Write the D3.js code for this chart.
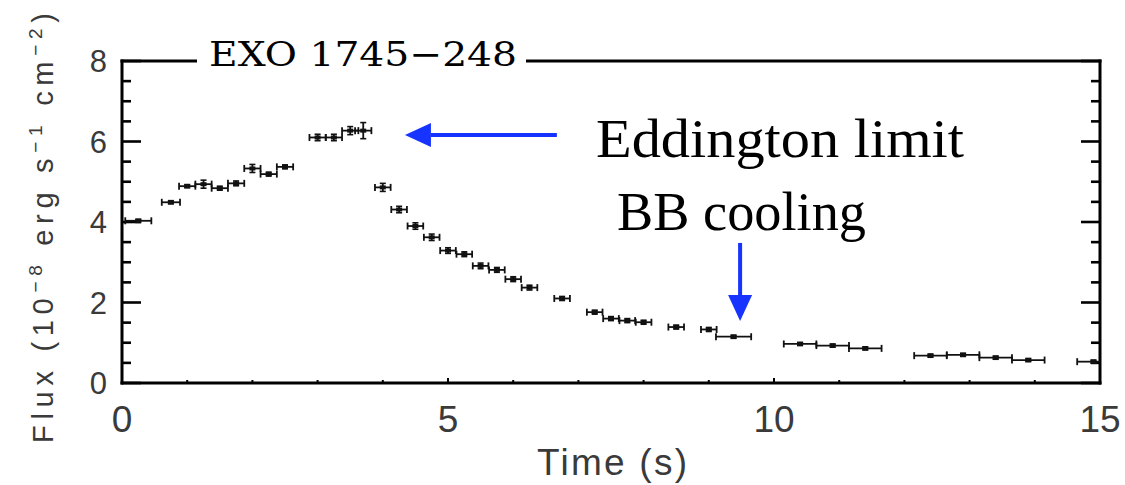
<!DOCTYPE html>
<html>
<head>
<meta charset="utf-8">
<script src="https://cdn.jsdelivr.net/npm/d3@7"></script>
<style>
  html, body { margin: 0; padding: 0; background: #fff; }
  svg { display: block; }
</style>
</head>
<body>
<svg id="chart" width="1125" height="485"></svg>
<script>
// Burst light curve: bin centre time (s), flux (1e-8 erg/s/cm^2), half bin width, flux error
const time = [0.25, 0.75, 1.0, 1.25, 1.5, 1.75, 2.0, 2.25, 2.5, 3.0, 3.25, 3.5, 3.7,
  4.0, 4.25, 4.5, 4.75, 5.0, 5.25, 5.5, 5.75, 6.0, 6.25,
  6.75, 7.25, 7.5, 7.75, 8.0, 8.5, 9.0, 9.38,
  10.4, 10.9, 11.4, 12.4, 12.9, 13.4, 13.9, 14.9];
const flux = [4.03, 4.49, 4.89, 4.94, 4.84, 4.96, 5.33, 5.19, 5.37, 6.10, 6.10, 6.27, 6.27,
  4.86, 4.31, 3.90, 3.62, 3.29, 3.20, 2.91, 2.81, 2.58, 2.37,
  2.10, 1.76, 1.60, 1.55, 1.51, 1.39, 1.33, 1.15,
  0.97, 0.93, 0.86, 0.68, 0.70, 0.63, 0.57, 0.53];
const timeErr = [0.2, 0.14, 0.125, 0.125, 0.125, 0.125, 0.125, 0.125, 0.125, 0.125, 0.125, 0.125, 0.125,
  0.12, 0.12, 0.12, 0.12, 0.12, 0.12, 0.12, 0.12, 0.12, 0.12,
  0.12, 0.12, 0.12, 0.12, 0.12, 0.12, 0.12, 0.27,
  0.25, 0.25, 0.25, 0.25, 0.25, 0.25, 0.25, 0.25];
const fluxErr = [0.04, 0.04, 0.04, 0.1, 0.05, 0.06, 0.1, 0.05, 0.05, 0.08, 0.08, 0.1, 0.2,
  0.1, 0.08, 0.08, 0.08, 0.07, 0.06, 0.07, 0.06, 0.06, 0.06,
  0.05, 0.05, 0.05, 0.05, 0.05, 0.05, 0.05, 0.04,
  0.04, 0.04, 0.04, 0.04, 0.04, 0.04, 0.04, 0.04];

const xTicks = [0, 5, 10, 15];
const yTicks = [0, 2, 4, 6, 8];
const titleText = "EXO 1745\u2212248";

const svg = d3.select("#chart");
const plotLeft = 122, plotRight = 1100, plotTop = 61, plotBottom = 383;

const x = d3.scaleLinear().domain([0, 15]).range([plotLeft, plotRight]);
const y = d3.scaleLinear().domain([0, 8]).range([plotBottom, plotTop]);

const ink = "#000";
const labelInk = "#3a3a3a";
const blue = "#1633ff";

// ----- frame and ticks -----
const frame = svg.append("g").attr("stroke", ink).attr("stroke-width", 3).attr("fill", "none");
frame.append("line").attr("x1", plotLeft).attr("x2", plotLeft).attr("y1", plotTop - 1.5).attr("y2", plotBottom + 1.5);
frame.append("line").attr("x1", plotRight).attr("x2", plotRight).attr("y1", plotTop - 1.5).attr("y2", plotBottom + 1.5);
frame.append("line").attr("x1", plotLeft - 1.5).attr("x2", plotRight + 1.5).attr("y1", plotBottom).attr("y2", plotBottom);
// top edge, broken around the title
frame.append("line").attr("x1", plotLeft - 1.5).attr("x2", 197).attr("y1", plotTop).attr("y2", plotTop);
frame.append("line").attr("x1", 526).attr("x2", plotRight + 1.5).attr("y1", plotTop).attr("y2", plotTop);

const yMinor = d3.range(0, 8.01, 0.5);
const tickG = svg.append("g").attr("stroke", ink).attr("stroke-width", 2.6);
yMinor.forEach(v => {
  const major = Math.abs(v / 2 - Math.round(v / 2)) < 1e-6;
  const len = major ? 19 : 9;
  tickG.append("line").attr("x1", plotLeft).attr("x2", plotLeft + len).attr("y1", y(v)).attr("y2", y(v));
  tickG.append("line").attr("x1", plotRight).attr("x2", plotRight - len).attr("y1", y(v)).attr("y2", y(v));
});
d3.range(1, 15).forEach(t => {
  const len = t % 5 === 0 ? 5 : 3;
  tickG.append("line").attr("x1", x(t)).attr("x2", x(t)).attr("y1", plotBottom).attr("y2", plotBottom - len)
    .attr("stroke-width", 2);
});

// ----- tick labels -----
const labFont = "'Liberation Sans', Arial, sans-serif";
svg.append("g").selectAll("text").data(yTicks).join("text")
  .attr("x", 107).attr("y", d => y(d) + 11)
  .attr("text-anchor", "end")
  .attr("font-family", labFont).attr("font-size", 31).attr("fill", labelInk)
  .text(d => d);
svg.append("g").selectAll("text").data(xTicks).join("text")
  .attr("x", d => x(d)).attr("y", 432)
  .attr("text-anchor", "middle")
  .attr("font-family", labFont).attr("font-size", 37).attr("fill", labelInk)
  .text(d => d);

// axis titles
svg.append("text")
  .attr("x", 612).attr("y", 475)
  .attr("text-anchor", "middle")
  .attr("font-family", labFont).attr("font-size", 37).attr("fill", labelInk)
  .attr("textLength", 150).attr("lengthAdjust", "spacing")
  .text("Time (s)");

const yt = svg.append("text")
  .attr("transform", "translate(53,228) rotate(-90)")
  .attr("text-anchor", "middle")
  .attr("font-family", labFont).attr("font-size", 29).attr("fill", labelInk)
  .attr("textLength", 430).attr("lengthAdjust", "spacing");
yt.append("tspan").text("Flux (10");
yt.append("tspan").attr("dy", -11).attr("font-size", 19).text("\u22128");
yt.append("tspan").attr("dy", 11).text(" erg s");
yt.append("tspan").attr("dy", -11).attr("font-size", 19).text("\u22121");
yt.append("tspan").attr("dy", 11).text(" cm");
yt.append("tspan").attr("dy", -11).attr("font-size", 19).text("\u22122");
yt.append("tspan").attr("dy", 11).text(")");

// plot title set into the top frame
svg.append("text")
  .attr("x", 209).attr("y", 66)
  .attr("font-family", "'DejaVu Serif', 'Liberation Serif', serif")
  .attr("font-size", 34).attr("fill", "#000")
  .attr("textLength", 308).attr("lengthAdjust", "spacingAndGlyphs")
  .text(titleText);

// ----- data: error bars -----
const pts = time.map((t, i) => ({ t, f: flux[i], dt: timeErr[i], df: fluxErr[i] }));
const dataG = svg.append("g").attr("stroke", "#111").attr("fill", "none");
const g = dataG.selectAll("g").data(pts).join("g");
// horizontal (time bin) bars, clipped at the right frame
g.append("line")
  .attr("x1", d => x(d.t - d.dt)).attr("x2", d => Math.min(x(d.t + d.dt), plotRight))
  .attr("y1", d => y(d.f)).attr("y2", d => y(d.f))
  .attr("stroke-width", 1.8);
// end caps on time bars
g.append("line")
  .attr("x1", d => Math.max(x(d.t - d.dt), plotLeft)).attr("x2", d => Math.max(x(d.t - d.dt), plotLeft))
  .attr("y1", d => y(d.f) - 3.5).attr("y2", d => y(d.f) + 3.5)
  .attr("stroke-width", 1.8);
g.filter(d => x(d.t + d.dt) < plotRight).append("line")
  .attr("x1", d => x(d.t + d.dt)).attr("x2", d => x(d.t + d.dt))
  .attr("y1", d => y(d.f) - 3.5).attr("y2", d => y(d.f) + 3.5)
  .attr("stroke-width", 1.8);
// flux error bars with caps
g.append("line")
  .attr("x1", d => x(d.t)).attr("x2", d => x(d.t))
  .attr("y1", d => y(d.f + d.df)).attr("y2", d => y(d.f - d.df))
  .attr("stroke-width", 1.8);
g.append("line")
  .attr("x1", d => x(d.t) - 3).attr("x2", d => x(d.t) + 3)
  .attr("y1", d => y(d.f + d.df)).attr("y2", d => y(d.f + d.df))
  .attr("stroke-width", 1.6);
g.append("line")
  .attr("x1", d => x(d.t) - 3).attr("x2", d => x(d.t) + 3)
  .attr("y1", d => y(d.f - d.df)).attr("y2", d => y(d.f - d.df))
  .attr("stroke-width", 1.6);
// centre marker
g.append("rect")
  .attr("x", d => x(d.t) - 3).attr("y", d => y(d.f) - 2)
  .attr("width", 6).attr("height", 4)
  .attr("fill", "#111").attr("stroke", "none");

// ----- annotations -----
const ann = svg.append("g");
function arrow(x0, y0, x1, y1) {
  const ang = Math.atan2(y1 - y0, x1 - x0);
  const headLen = 26, headHalf = 12;
  const bx = x1 - headLen * Math.cos(ang), by = y1 - headLen * Math.sin(ang);
  ann.append("line").attr("x1", x0).attr("y1", y0).attr("x2", bx).attr("y2", by)
    .attr("stroke", blue).attr("stroke-width", 4);
  const px = -Math.sin(ang) * headHalf, py = Math.cos(ang) * headHalf;
  ann.append("path")
    .attr("d", `M${x1},${y1}L${bx + px},${by + py}L${bx - px},${by - py}Z`)
    .attr("fill", blue);
}
// Eddington-limited plateau
arrow(x(6.67), y(6.16), x(4.34), y(6.16));
// start of blackbody cooling
arrow(x(9.48), y(3.48), x(9.48), y(1.54));

const serif = "'Liberation Serif', 'Times New Roman', serif";
ann.append("text").attr("x", 596).attr("y", 157)
  .attr("font-family", serif).attr("font-size", 55).attr("fill", "#000")
  .attr("textLength", 368).attr("lengthAdjust", "spacingAndGlyphs")
  .text("Eddington limit");
ann.append("text").attr("x", 617).attr("y", 230)
  .attr("font-family", serif).attr("font-size", 55).attr("fill", "#000")
  .attr("textLength", 249).attr("lengthAdjust", "spacingAndGlyphs")
  .text("BB cooling");
</script>
</body>
</html>
